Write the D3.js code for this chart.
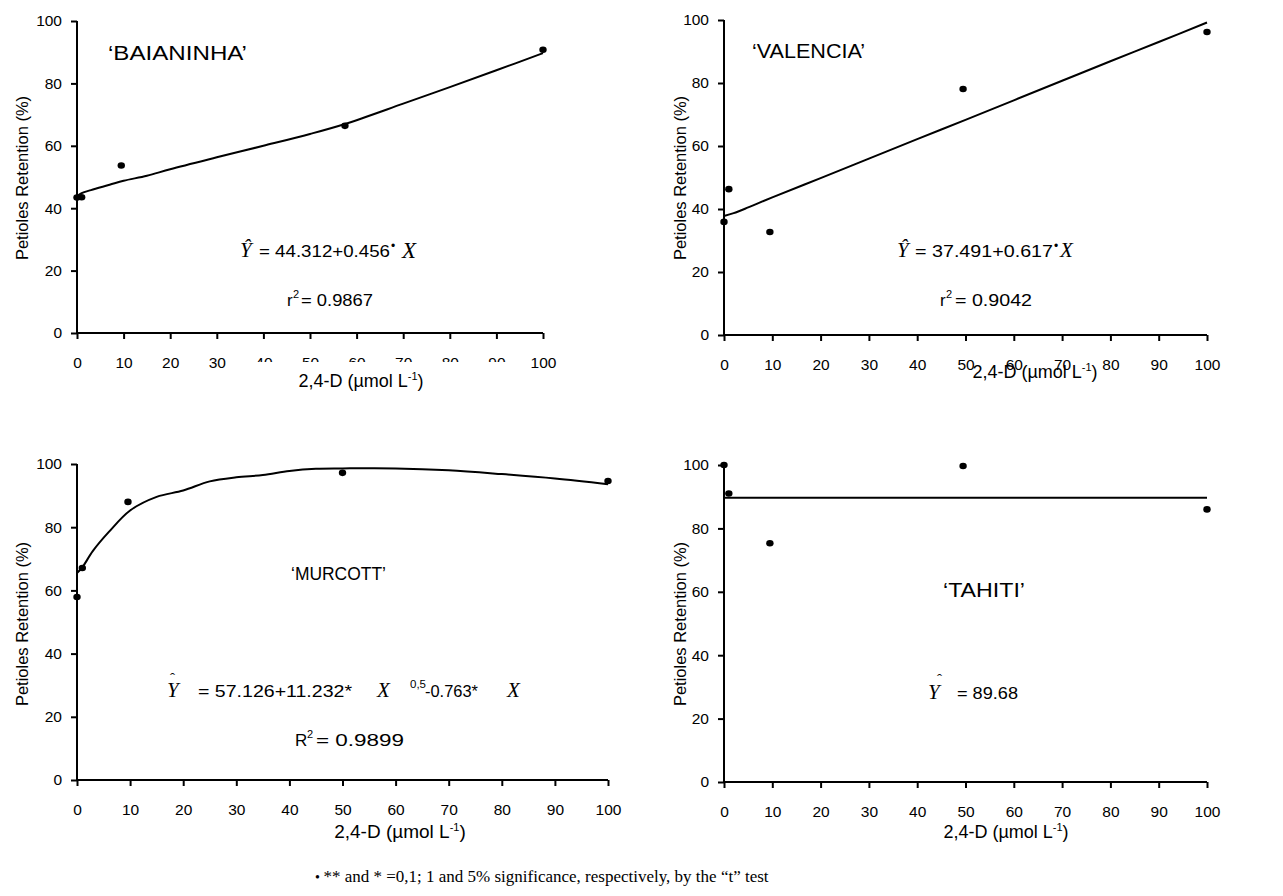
<!DOCTYPE html>
<head>
<meta charset="utf-8">
<style>
  body { margin:0; background:#fff; }
  svg text { font-family: Arial, "Liberation Sans", sans-serif; fill:#000; }
  .axis path, .axis line { stroke:#000; stroke-width:2px; }
  .axis text { font-size:15.5px; }
  .fit { fill:none; stroke:#000; stroke-width:2px; }
  .serif { font-family: "Times New Roman", "Liberation Serif", serif; }
</style>
</head>
<body>
<script src="https://d3js.org/d3.v7.min.js"></script>
<script>

var width = 1283, height = 896;

// tick values shared by all panels
var xTicks = [0, 10, 20, 30, 40, 50, 60, 70, 80, 90, 100];
var yTicks = [0, 20, 40, 60, 80, 100];

var baianinhaPts = [[0, 43.4], [1, 43.5], [9.5, 53.7], [57.5, 66.4], [100, 90.8]];
var valenciaPts  = [[0, 35.9], [1, 46.3], [9.5, 32.7], [49.5, 78.1], [100, 96.2]];
var murcottPts   = [[0, 57.9], [1, 67.1], [9.6, 88], [50, 97.2], [100, 94.6]];
var tahitiPts    = [[0, 100], [1, 91], [9.5, 75.3], [49.5, 99.7], [100, 86]];

// fitted curves as drawn in the figure
var baianinhaFit = [[0, 43.8], [1, 44.8], [3, 45.8], [7, 47.5], [10, 48.8], [15, 50.4], [20, 52.5],
  [30, 56.3], [40, 60], [50, 63.8], [57.5, 67], [70, 73.5], [80, 78.8], [90, 84.2], [100, 89.7]];
var valenciaFit = [[0, 37.8], [2, 38.7], [5, 40.5], [10, 43.7], [20, 49.8], [30, 56], [40, 62.2],
  [50, 68.3], [60, 74.5], [70, 80.7], [80, 86.9], [90, 93], [100, 99.2]];
var murcottFit = [[0, 65.5], [1, 67.3], [3, 72.5], [6, 78.5], [10, 85.3], [15, 89.6], [20, 91.6],
  [25, 94.5], [30, 95.8], [35, 96.5], [40, 97.8], [45, 98.5], [50, 98.6], [60, 98.6], [70, 98],
  [80, 96.8], [90, 95.4], [100, 93.6]];
var tahitiFit = [[0, 89.68], [100, 89.68]];

var panels = [
  { name: "\u2018BAIANINHA\u2019", pts: baianinhaPts, fit: baianinhaFit,
    x0: 77, x1: 543, yT: 21, yB: 333, title: [108, 60, 139, 20], ylab: [22, 178], xlab: [361, 387, 18], cut: [250, 515] },
  { name: "\u2018VALENCIA\u2019", pts: valenciaPts, fit: valenciaFit,
    x0: 724, x1: 1207, yT: 20, yB: 335, title: [752, 58, 113, 20], ylab: [680, 178], xlab: [1035, 378, 18] },
  { name: "\u2018MURCOTT\u2019", pts: murcottPts, fit: murcottFit,
    x0: 77, x1: 608, yT: 464, yB: 780, title: [291, 580, 95, 18], ylab: [22, 624], xlab: [400, 838, 19] },
  { name: "\u2018TAHITI\u2019", pts: tahitiPts, fit: tahitiFit,
    x0: 724, x1: 1207, yT: 465, yB: 782, title: [943, 597, 82, 20], ylab: [680, 624], xlab: [1006, 838, 18] }
];

var svg = d3.select("body").append("svg")
    .attr("width", width)
    .attr("height", height);

var line = d3.line().curve(d3.curveCatmullRom.alpha(0.5));

panels.forEach(function(p) {
  var x = d3.scaleLinear().domain([0, 100]).range([p.x0, p.x1]);
  var y = d3.scaleLinear().domain([0, 100]).range([p.yB, p.yT]);
  var g = svg.append("g");

  g.append("g").attr("class", "axis")
    .attr("transform", "translate(0," + p.yB + ")")
    .call(d3.axisBottom(x).tickValues(xTicks).tickSize(6).tickPadding(18))
    .call(function(a) { a.select(".domain").attr("d", "M" + p.x0 + ",0H" + p.x1); });

  g.append("g").attr("class", "axis")
    .attr("transform", "translate(" + p.x0 + ",0)")
    .call(d3.axisLeft(y).tickValues(yTicks).tickSize(6).tickPadding(9))
    .call(function(a) { a.select(".domain").attr("d", "M0," + p.yT + "V" + p.yB); });

  // x-axis title box (covers the bottom of some tick labels, as in the source)
  if (p.cut) {
    g.append("rect").attr("x", p.cut[0]).attr("y", p.yB + 29)
      .attr("width", p.cut[1] - p.cut[0]).attr("height", 30).attr("fill", "#fff");
  }
  var xl = g.append("text").attr("x", p.xlab[0]).attr("y", p.xlab[1])
    .attr("text-anchor", "middle").style("font-size", p.xlab[2] + "px");
  xl.append("tspan").text("2,4-D (\u00b5mol L");
  xl.append("tspan").attr("dy", -7).style("font-size", "11px").text("-1");
  xl.append("tspan").attr("dy", 7).text(")");

  g.append("text")
    .attr("transform", "translate(" + p.ylab[0] + "," + p.ylab[1] + ") rotate(-90)")
    .attr("text-anchor", "middle").attr("dy", "0.35em")
    .style("font-size", "16.5px")
    .text("Petioles Retention (%)");

  g.append("text").attr("x", p.title[0]).attr("y", p.title[1])
    .attr("textLength", p.title[2]).attr("lengthAdjust", "spacingAndGlyphs")
    .style("font-size", p.title[3] + "px").text(p.name);

  g.append("path").datum(p.fit).attr("class", "fit")
    .attr("d", line.x(function(d) { return x(d[0]); }).y(function(d) { return y(d[1]); }));

  g.selectAll(".pt").data(p.pts).enter().append("ellipse")
    .attr("class", "pt")
    .attr("cx", function(d) { return x(d[0]); })
    .attr("cy", function(d) { return y(d[1]); })
    .attr("rx", 3.7).attr("ry", 3.3)
    .attr("fill", "#000");
});

// pieces of the regression equations: plain text, optionally stretched to a length
function piece(xp, yp, str, size, len, serif) {
  var t = svg.append("text").attr("x", xp).attr("y", yp)
    .style("font-size", size + "px").text(str);
  if (len) t.attr("textLength", len).attr("lengthAdjust", "spacingAndGlyphs");
  if (serif) t.attr("class", "serif").style("font-style", "italic");
  return t;
}

// BAIANINHA
piece(240, 257, "\u0176", 21, null, true);
piece(259, 257, "= 44.312+0.456", 17, 131);
piece(391, 250, "\u2022", 12);
piece(402, 258, "X", 23, null, true);
piece(287, 306, "r", 17);
piece(293, 298, "2", 11);
piece(301, 306, "= 0.9867", 17, 72);

// VALENCIA
piece(897, 257, "\u0176", 21, null, true);
piece(915, 257, "= 37.491+0.617", 17, 138);
piece(1054, 250, "\u2022", 12);
piece(1060, 257, "X", 21, null, true);
piece(940, 306, "r", 17);
piece(946, 298, "2", 11);
piece(955, 306, "= 0.9042", 17, 77);

// MURCOTT
piece(167, 697, "Y", 21, null, true);
piece(170, 683, "\u02c6", 15).attr("class", "serif");
piece(198, 697, "= 57.126+11.232*", 17, 154);
piece(377, 697, "X", 21, null, true);
piece(410, 688, "0,5", 11.5);
piece(425, 697, "-0.763*", 17, 53);
piece(507, 697, "X", 21, null, true);
piece(295, 746, "R", 17);
piece(307, 738, "2", 11);
piece(316, 746, "= 0.9899", 17, 88);

// TAHITI
piece(928, 699, "Y", 21, null, true);
piece(937, 684, "\u02c6", 15).attr("class", "serif");
piece(957, 699, "= 89.68", 17, 61);

// footnote
var fn = svg.append("text").attr("x", 315).attr("y", 882)
  .attr("class", "serif").style("font-size", "17px");
fn.append("tspan").style("font-size", "14px").text("\u2022 ");
fn.append("tspan").text("** and * =0,1; 1 and 5% significance, respectively, by the \u201ct\u201d test");

</script>
</body>
